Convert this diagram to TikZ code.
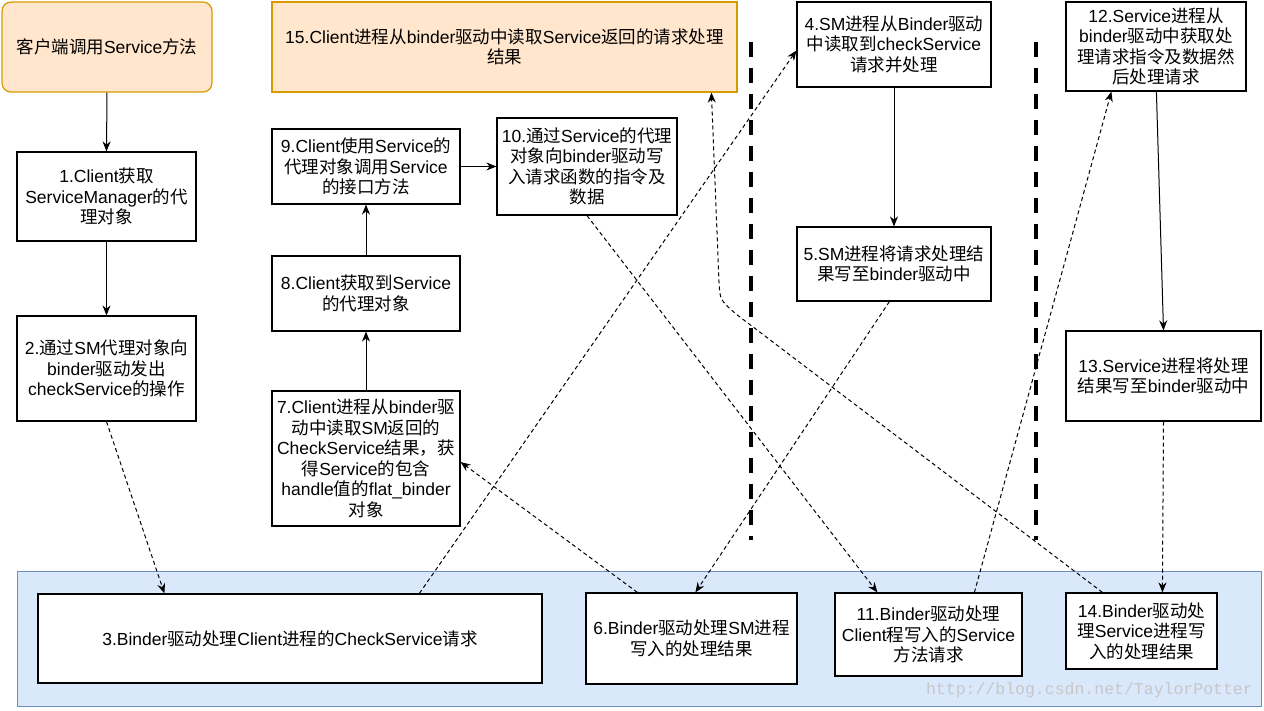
\documentclass[tikz,border=0pt]{standalone}
\usepackage{fontspec}
\setmainfont{Liberation Sans}
\newfontfamily\zhfont{Noto Sans CJK SC}
\newfontfamily\markfont{Liberation Mono}
\usetikzlibrary{arrows.meta}
% Han characters are set in the CJK family
\XeTeXinterchartokenstate=1
\newXeTeXintercharclass\zhclass
\count255="4E00
\loop\ifnum\count255<"A000
  \XeTeXcharclass\count255=\zhclass
  \advance\count255 by 1
\repeat
\XeTeXcharclass"FF0C=\zhclass
\XeTeXinterchartoks 0 \zhclass = {\begingroup\zhfont}
\XeTeXinterchartoks 4095 \zhclass = {\begingroup\zhfont}
\XeTeXinterchartoks \zhclass 0 = {\endgroup}
\XeTeXinterchartoks \zhclass 4095 = {\endgroup}
\definecolor{orangefill}{HTML}{FFE6CC}
\definecolor{orangeline}{HTML}{D79B00}
\definecolor{bluefill}{HTML}{DAE8FC}
\definecolor{blueline}{HTML}{6C8EBF}
\tikzset{procbox/.style 2 args={draw, line width=1.2pt, fill=white, inner sep=0pt, align=center,
      minimum width=#1pt, minimum height=#2pt, font=\fontsize{17.5}{20.5}\selectfont},
    orangebox/.style 2 args={procbox={#1}{#2}, fill=orangefill, draw=orangeline},
    flow/.style={line width=1pt, -{Stealth[length=10pt,width=8pt]}},
    flowdash/.style={flow, dash pattern=on 4pt off 3pt},
    sepline/.style={line width=4.5pt, dash pattern=on 15pt off 11pt}}

\begin{document}
\begin{tikzpicture}[x=1pt,y=-1pt]
  \useasboundingbox (0,0) rectangle (1264,710);
  % binder driver layer
  \node[draw=blueline, fill=bluefill, line width=1pt, minimum width=1244pt, minimum height=135pt] (layer) at (639,638.5) {};
  \draw[sepline] (751,42) -- (751,540);
  \draw[sepline] (1036,42) -- (1036,540);
  % client side
  \node[orangebox={210}{90}, rounded corners=9pt] (call) at (107,47) {客户端调用Service方法};
  \node[orangebox={465}{90}] (b15) at (504.5,47) {15.Client进程从binder驱动中读取Service返回的请求处理\\结果};
  \node[procbox={179}{89}] (b1) at (106.5,196.5) {1.Client获取\\ServiceManager的代\\理对象};
  \node[procbox={179}{105}] (b2) at (106.5,368.5) {2.通过SM代理对象向\\binder驱动发出\\checkService的操作};
  \node[procbox={188}{75}] (b9) at (366,166.5) {9.Client使用Service的\\代理对象调用Service\\的接口方法};
  \node[procbox={180}{97}] (b10) at (587,166.5) {10.通过Service的代理\\对象向binder驱动写\\入请求函数的指令及\\数据};
  \node[procbox={188}{75}] (b8) at (366,293.5) {8.Client获取到Service\\的代理对象};
  \node[procbox={188}{135}] (b7) at (366,458.5) {7.Client进程从binder驱\\动中读取SM返回的\\CheckService结果，获\\得Service的包含\\handle值的flat\_binder\\对象};
  % service manager side
  \node[procbox={194}{85}] (b4) at (894,44.5) {4.SM进程从Binder驱动\\中读取到checkService\\请求并处理};
  \node[procbox={194}{74}] (b5) at (894,264) {5.SM进程将请求处理结\\果写至binder驱动中};
  % service side
  \node[procbox={180}{89}] (b12) at (1156,46.5) {12.Service进程从\\binder驱动中获取处\\理请求指令及数据然\\后处理请求};
  \node[procbox={195}{90}] (b13) at (1163.5,376) {13.Service进程将处理\\结果写至binder驱动中};
  % driver boxes
  \node[procbox={504}{89}] (b3) at (290,638.5) {3.Binder驱动处理Client进程的CheckService请求};
  \node[procbox={211}{91}] (b6) at (691.5,638.5) {6.Binder驱动处理SM进程\\写入的处理结果};
  \node[procbox={187}{83}] (b11) at (928.5,634.5) {11.Binder驱动处理\\Client程写入的Service\\方法请求};
  \node[procbox={151}{76}] (b14) at (1141.5,631) {14.Binder驱动处\\理Service进程写\\入的处理结果};
  \node[anchor=east, inner sep=0pt, text=black!22, font=\markfont\fontsize{16.5}{18}\selectfont] (mark) at (1253,690) {http://blog.csdn.net/TaylorPotter};
  % connectors
  \draw[flow] (call.south) -- (b1.north);
  \draw[flow] (b1.south) -- (b2.north);
  \draw[flowdash] (b2.south) -- ([xshift=127pt]b3.north west);
  \draw[flowdash] ([xshift=382pt]b3.north west) -- ([yshift=-6pt]b4.west);
  \draw[flow] (b4.south) -- (b5.north);
  \draw[flowdash] ([xshift=93pt]b5.south west) -- ([xshift=110pt]b6.north west);
  \draw[flowdash] ([xshift=52pt]b6.north west) -- ([yshift=-3.5pt]b7.east);
  \draw[flow] (b7.north) -- (b8.south);
  \draw[flow] (b8.north) -- (b9.south);
  \draw[flow] (b9.east) -- (b10.west);
  \draw[flowdash] (b10.south) -- ([xshift=43pt]b11.north west);
  \draw[flowdash] ([xshift=140pt]b11.north west) -- ([xshift=46pt]b12.south west);
  \draw[flow] ([xshift=91pt]b12.south west) -- (b13.north);
  \draw[flowdash] (b13.south) -- ([xshift=97pt]b14.north west);
  \draw[flowdash] ([xshift=37pt]b14.north west) -- (736,314) .. controls (720,300) .. (719,282) -- ([xshift=440pt]b15.south west);
\end{tikzpicture}
\end{document}
